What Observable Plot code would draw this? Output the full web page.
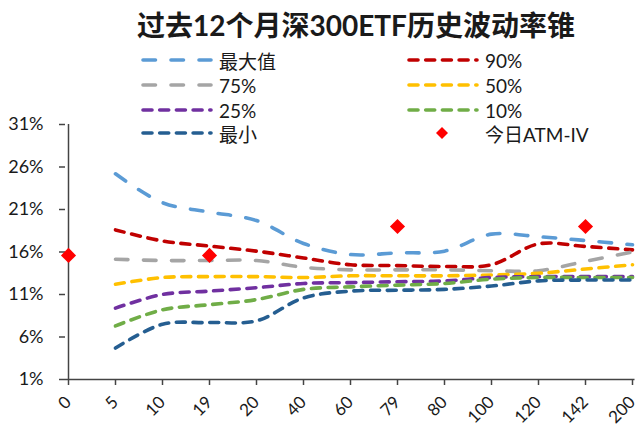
<!DOCTYPE html>
<html><head><meta charset="utf-8">
<script src="https://cdn.jsdelivr.net/npm/d3@7"></script>
<script src="https://cdn.jsdelivr.net/npm/@observablehq/plot@0.6"></script>
<style>
body{margin:0;background:#fff;}
#wrap{position:relative;width:641px;height:427px;overflow:hidden;font-family:Lato,"Noto Sans CJK SC",sans-serif;color:#1a1a1a;}
#chart{position:absolute;left:0;top:0;}
#title{position:absolute;left:0;top:9px;width:712px;text-align:center;font-weight:bold;font-size:28px;line-height:32px;white-space:nowrap;}
.lg{position:absolute;height:24px;display:flex;align-items:center;font-size:19px;white-space:nowrap;}
.lg svg{display:block;margin-right:6px;}
</style></head>
<body><div id="wrap"><div id="chart"></div><div id="title">过去12个月深300ETF历史波动率锥</div></div>
<script>
// ---- data ----
const cats = ["0","5","10","19","20","40","60","79","80","100","120","142","200"];
const seriesNames = ["最大值","90%","75%","50%","25%","10%","最小"];
const maxV = [null,25.2,21.8,20.7,19.7,17.0,15.7,15.9,16.1,18.1,17.8,17.35,16.85];
const p90  = [null,18.6,17.3,16.7,16.1,15.3,14.5,14.4,14.3,14.5,16.95,16.65,16.25];
const p75  = [null,15.15,15.0,15.0,15.0,14.2,13.9,13.9,13.9,13.8,13.8,14.9,16.0];
const p50  = [null,12.2,13.0,13.1,13.1,13.0,13.2,13.2,13.2,13.3,13.5,14.0,14.5];
const p25  = [null,9.4,11.0,11.4,11.8,12.3,12.4,12.5,12.6,13.0,13.1,13.1,13.1];
const p10  = [null,7.3,9.2,9.8,10.4,11.6,11.9,12.1,12.3,12.8,13.0,13.0,13.0];
const minV = [null,4.7,7.5,7.7,7.9,10.6,11.4,11.5,11.6,12.0,12.6,12.7,12.7];
const ivLabel = "今日ATM-IV";
const ivCats = ["0","19","79","142"];
const ivVals = [15.6,15.6,19.0,19.0];
const yTicks = [1,6,11,16,21,26,31];

// ---- styles ----
const seriesData = [maxV,p90,p75,p50,p25,p10,minV];
const colors = ["#5B9BD5","#C00000","#A5A5A5","#FFC000","#7030A0","#70AD47","#255E91"];
const longDash = "12.5,15.5", shortDash = "9,7.7";
const dashes = [longDash,shortDash,longDash,shortDash,shortDash,shortDash,shortDash];
const SW = 3.6;

const rows = seriesNames.map((name,k)=>
  cats.map((c,i)=>({cat:c, v:seriesData[k][i], s:name})).filter(d=>d.v!=null));
const iv = ivCats.map((c,i)=>({cat:c, v:ivVals[i]}));

const chart = Plot.plot({
  width:641, height:427,
  marginLeft:65, marginRight:6.5, marginTop:124, marginBottom:48,
  style:{fontFamily:"Lato, 'Noto Sans CJK SC', sans-serif", fontSize:"18px", color:"#1a1a1a", background:"transparent", overflow:"visible"},
  x:{type:"point", domain:cats, padding:0},
  y:{domain:[1,31]},
  marks:[
    Plot.axisY({ticks:yTicks, tickFormat:d=>d+"%", tickSize:6, tickPadding:16, label:null, stroke:"#444", strokeWidth:1.5, fontSize:18}),
    Plot.axisX({tickRotate:-45, tickSize:6, tickPadding:14, label:null, stroke:"#444", strokeWidth:1.5, fontSize:17}),
    Plot.ruleX([cats[0]], {stroke:"#444", strokeWidth:1.5}),
    Plot.ruleY([1], {stroke:"#444", strokeWidth:1.5}),
    ...rows.map((r,k)=>Plot.line(r,{x:"cat", y:"v", stroke:colors[k], strokeWidth:SW,
        strokeDasharray:dashes[k], strokeLinecap:"round", curve:"catmull-rom"})),
    Plot.dot(iv,{x:"cat", y:"v", symbol:"diamond2", r:6.8, fill:"#FF0000", stroke:"none"})
  ]
});
document.getElementById("chart").appendChild(chart);

// ---- legend ----
const wrap = document.getElementById("wrap");
const pos = [[141,60],[407,60],[141,85],[407,85],[141,110],[407,110],[141,133]];
seriesNames.forEach((name,k)=>{
  const div = document.createElement("div");
  div.className="lg";
  div.style.left = pos[k][0]+"px";
  div.style.top = (pos[k][1]-12)+"px";
  const svg = d3.create("svg").attr("width",72).attr("height",12);
  svg.append("line").attr("x1",2).attr("x2",70).attr("y1",6).attr("y2",6)
    .attr("stroke",colors[k]).attr("stroke-width",SW).attr("stroke-dasharray",dashes[k]).attr("stroke-linecap","round");
  div.appendChild(svg.node());
  const sp = document.createElement("span"); sp.textContent = name; div.appendChild(sp);
  wrap.appendChild(div);
});
{
  const div = document.createElement("div");
  div.className="lg";
  div.style.left = "407px"; div.style.top = (133-12)+"px";
  const svg = d3.create("svg").attr("width",72).attr("height",14);
  svg.append("path").attr("d","M35,1L41,7L35,13L29,7Z").attr("fill","#FF0000");
  div.appendChild(svg.node());
  const sp = document.createElement("span"); sp.textContent = ivLabel; div.appendChild(sp);
  wrap.appendChild(div);
}
</script></body></html>
